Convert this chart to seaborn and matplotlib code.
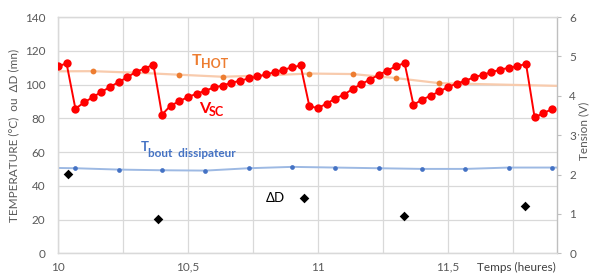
import numpy as np
import pandas as pd
import matplotlib
matplotlib.use("Agg")
import matplotlib.pyplot as plt
import seaborn as sns

# ---------------- data ----------------
vsc_time = [10.000, 10.033, 10.067, 10.100, 10.133, 10.167, 10.200, 10.233, 10.267, 10.300,
            10.333, 10.367, 10.400, 10.433, 10.467, 10.500, 10.533, 10.567, 10.600, 10.633,
            10.667, 10.700, 10.733, 10.767, 10.800, 10.833, 10.867, 10.900, 10.933, 10.967,
            11.000, 11.033, 11.067, 11.100, 11.133, 11.167, 11.200, 11.233, 11.267, 11.300,
            11.333, 11.367, 11.400, 11.433, 11.467, 11.500, 11.533, 11.567, 11.600, 11.633,
            11.667, 11.700, 11.733, 11.767, 11.800, 11.833, 11.867, 11.900]
vsc_volt = [4.75, 4.82, 3.67, 3.83, 3.96, 4.10, 4.22, 4.35, 4.47, 4.61, 4.69, 4.79,
            3.52, 3.75, 3.86, 3.97, 4.05, 4.13, 4.21, 4.26, 4.33, 4.38, 4.44, 4.49, 4.54,
            4.60, 4.66, 4.72, 4.77,
            3.73, 3.69, 3.80, 3.93, 4.03, 4.17, 4.30, 4.41, 4.53, 4.64, 4.75, 4.83,
            3.77, 3.90, 4.00, 4.11, 4.22, 4.31, 4.38, 4.47, 4.53, 4.60, 4.66, 4.71, 4.75, 4.81,
            3.45, 3.56, 3.66]

thot_time = [9.967, 10.133, 10.300, 10.467, 10.633, 10.800, 10.967, 11.133, 11.300, 11.467, 12.000]
thot_temp = [107.8, 107.9, 107.0, 105.8, 104.6, 105.4, 106.5, 106.2, 103.8, 100.8, 98.9]

tbout_time = [9.900, 10.067, 10.233, 10.400, 10.567, 10.733, 10.900, 11.067, 11.233,
              11.400, 11.567, 11.733, 11.900, 12.067]
tbout_temp = [50.8, 50.4, 49.6, 49.2, 49.0, 50.4, 51.2, 50.8, 50.4, 50.0, 50.0, 50.8, 50.8, 50.8]

dd_time = [10.037, 10.383, 10.947, 11.332, 11.796]
dd_min = [46.9, 20.3, 33.0, 21.9, 28.2]

x_ticks = [10.0, 10.25, 10.5, 10.75, 11.0, 11.25, 11.5, 11.75]
x_tick_labels = ["10", "", "10,5", "", "11", "", "11,5", ""]
left_ticks = [0, 20, 40, 60, 80, 100, 120, 140]
right_ticks = [0, 1, 2, 3, 4, 5, 6]

# ---------------- style ----------------
sns.set_theme(style="white")
plt.rcParams['font.family'] = ['Lato', 'DejaVu Sans']

W, H = 595, 277
fig = plt.figure(figsize=(W / 100, H / 100), dpi=100)
L, R, T, B = 58, 556.7, 17, 253.3
ax = fig.add_axes([L / W, 1 - B / H, (R - L) / W, (B - T) / H])
ax2 = ax.twinx()

grid_c = "#D9D9D9"
tick_c = "#595959"

# THOT (orange)
sns.lineplot(x=thot_time, y=thot_temp, ax=ax, color="#F8CBAD", linewidth=1.6,
             marker="o", markersize=4.2, markerfacecolor="#ED7D31", markeredgecolor="#ED7D31",
             markeredgewidth=0, zorder=3)
# T bout dissipateur (blue)
sns.lineplot(x=tbout_time, y=tbout_temp, ax=ax, color="#9DB9E3", linewidth=1.4,
             marker="o", markersize=3.4, markerfacecolor="#4472C4", markeredgecolor="#4472C4",
             markeredgewidth=0, zorder=3)
# Delta D (black diamonds)
sns.scatterplot(x=dd_time, y=dd_min, ax=ax, marker="D", s=24, color="black",
                linewidth=0, zorder=4)
# Vsc (red) on right axis
sns.lineplot(x=vsc_time, y=vsc_volt, ax=ax2, color="#FF0000", linewidth=1.4,
             marker="o", markersize=6, markerfacecolor="#FF0000", markeredgecolor="#FF0000",
             markeredgewidth=0, zorder=3)

ax.set_xlim(10.0, 11.918)
ax.set_ylim(0, 140)
ax2.set_ylim(0, 6)
ax.set_xticks(x_ticks)
ax.set_xticklabels(x_tick_labels)
ax.set_yticks(left_ticks)
ax2.set_yticks(right_ticks)

ax.grid(True, color=grid_c, linewidth=0.9)
ax2.grid(False)
ax.set_axisbelow(True)
ax2.patch.set_visible(False)

ax.tick_params(axis="both", length=0, labelsize=8.5, labelcolor=tick_c)
ax.tick_params(axis="y", pad=9)
ax.tick_params(axis="x", pad=6)
ax2.tick_params(axis="y", length=3, width=0.8, color="#BFBFBF", labelsize=8.5,
                labelcolor=tick_c, pad=6)

for a in (ax, ax2):
    for s in a.spines.values():
        s.set_color(grid_c)
        s.set_linewidth(0.9)
ax2.spines["right"].set_color("#BFBFBF")

ax.set_xlabel("")
ax.set_ylabel("TEMPERATURE (°C)  ou  ΔD (mn)", fontsize=8.5, color=tick_c, labelpad=6)
ax2.set_ylabel("Tension (V)", fontsize=8.5, color=tick_c, labelpad=6)
ax.yaxis.set_label_coords(-(L - 19) / (R - L), 0.5)
ax2.yaxis.set_label_coords(1 + (578 - R) / (R - L), 0.52)


def ftext(px, py, s, **kw):
    fig.text(px / W, 1 - py / H, s, va="baseline", ha="left", **kw)


ftext(477, 271, "Temps (heures)", fontsize=8.5, color="#404040")

# series labels
ftext(192, 65, "T", fontsize=11.5, color="#ED7D31", fontweight="bold")
ftext(200.5, 68.5, "HOT", fontsize=9, color="#ED7D31", fontweight="bold")
ftext(199, 112.7, "V", fontsize=11.5, color="#FF0000", fontweight="bold")
ftext(208.5, 116, "SC", fontsize=9, color="#FF0000", fontweight="bold")
ftext(141, 151, "T", fontsize=9.5, color="#4472C4", fontweight="bold")
ftext(148.5, 157, "bout  dissipateur", fontsize=8.5, color="#4472C4", fontweight="bold")
ftext(266, 201.7, "ΔD", fontsize=9.5, color="black")

fig.savefig("out.png", dpi=100, facecolor="white")
